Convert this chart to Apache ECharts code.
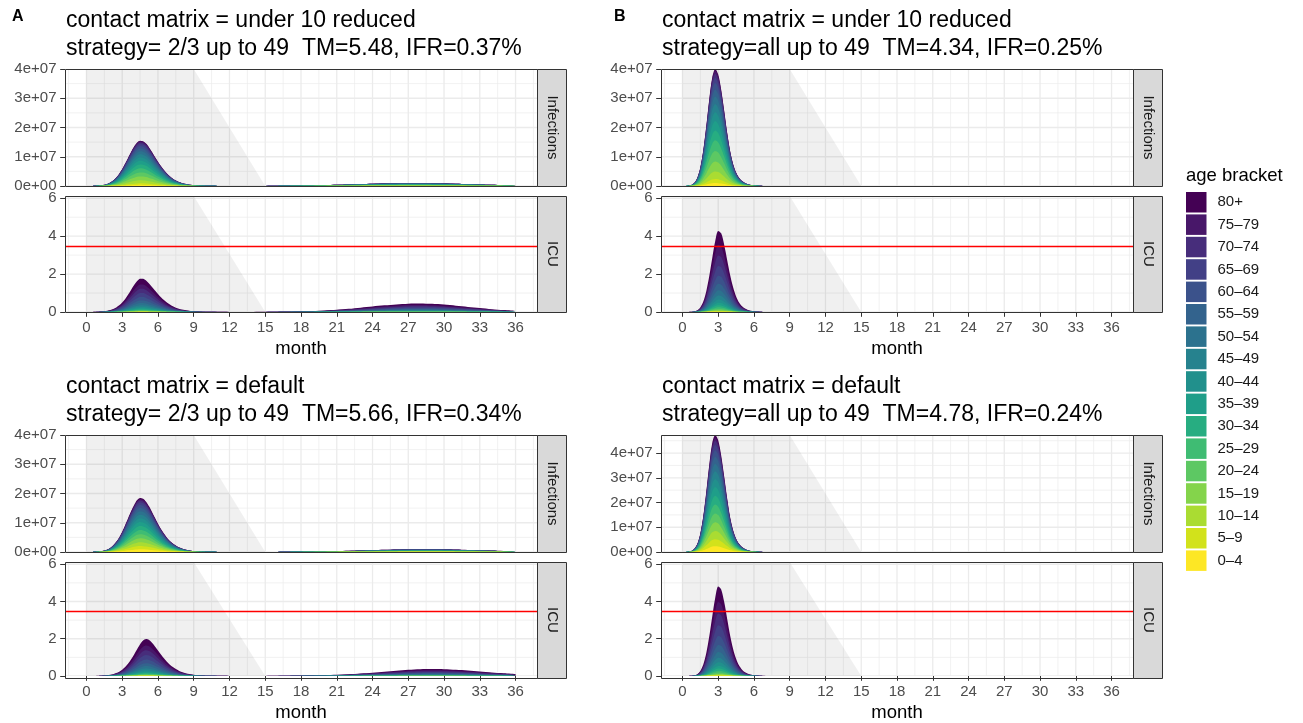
<!DOCTYPE html>
<html>
<head>
<meta charset="utf-8">
<script src="https://cdn.jsdelivr.net/npm/echarts@6/dist/echarts.min.js"></script>
<style>
html, body { margin: 0; padding: 0; background: #fff; }
#chart { width: 1303px; height: 723px; }
</style>
</head>
<body>
<div id="chart"></div>
<script>
// age groups, bottom of the stack first
var ages = ['0–4', '5–9', '10–14', '15–19', '20–24', '25–29', '30–34', '35–39', '40–44',
            '45–49', '50–54', '55–59', '60–64', '65–69', '70–74', '75–79', '80+'];
var ageColors = ['#FDE725', '#D2E21B', '#AADC32', '#84D44B', '#5DC863', '#3FBC73', '#27AD81', '#1F9E89', '#21908C',
                 '#26828E', '#2C728E', '#33638D', '#3B528B', '#424086', '#472D7B', '#481769', '#440154'];

// time in months (quarter steps during the first wave, then monthly)
var months = [0, 0.25, 0.5, 0.75, 1, 1.25, 1.5, 1.75, 2, 2.25, 2.5, 2.75, 3, 3.25, 3.5, 3.75, 4, 4.25, 4.5, 4.75,
              5, 5.25, 5.5, 5.75, 6, 6.25, 6.5, 6.75, 7, 7.25, 7.5, 7.75, 8, 8.25, 8.5, 8.75, 9, 9.25, 9.5, 9.75, 10,
              11, 12, 13, 14, 15, 16, 17, 18, 19, 20, 21, 22, 23, 24, 25, 26, 27, 28, 29, 30, 31, 32, 33, 34, 35, 36];
var monthTicks = [0, 3, 6, 9, 12, 15, 18, 21, 24, 27, 30, 33, 36];

// total infections (units of 1e7) and ICU totals
var aInfReduced = [0, 0, .003, .006, .012, .022, .04, .07, .12, .19, .29, .42, .58, .77, .97, 1.17, 1.35, 1.49, 1.55, 1.53,
  1.45, 1.32, 1.16, .99, .83, .68, .55, .43, .33, .25, .19, .14, .1, .075, .055, .04, .028, .02, .014, .01, .007,
  .004, .003, .003, .003, .004, .005, .008, .013, .02, .03, .042, .055, .068, .08, .09, .097, .1, .1, .097, .09, .08, .068, .055, .042, .03, .02];
var aIcuReduced = [0, .002, .004, .008, .014, .024, .04, .065, .1, .16, .24, .35, .5, .69, .92, 1.17, 1.42, 1.63, 1.76, 1.76,
  1.66, 1.5, 1.32, 1.13, .95, .78, .63, .5, .39, .3, .23, .175, .13, .1, .075, .055, .04, .03, .022, .016, .012,
  .008, .005, .004, .005, .007, .012, .02, .035, .055, .085, .12, .17, .23, .29, .35, .4, .44, .45, .43, .39, .33, .27, .21, .15, .1, .06];
var aInfDefault = [0, 0, .004, .007, .014, .026, .048, .083, .14, .23, .35, .5, .69, .92, 1.16, 1.4, 1.61, 1.78, 1.85, 1.82,
  1.72, 1.56, 1.37, 1.17, .97, .79, .63, .49, .38, .29, .22, .16, .12, .085, .062, .045, .032, .023, .016, .011, .008,
  .004, .003, .003, .003, .003, .004, .006, .01, .015, .022, .03, .04, .052, .064, .075, .085, .092, .095, .095, .09, .082, .072, .06, .048, .037, .028];
var aIcuDefault = [0, 0, .002, .004, .008, .014, .024, .04, .065, .1, .155, .23, .34, .48, .67, .9, 1.16, 1.44, 1.7, 1.9,
  1.98, 1.93, 1.79, 1.59, 1.37, 1.15, .95, .77, .61, .48, .37, .28, .21, .16, .12, .09, .066, .049, .036, .027, .02,
  .01, .006, .005, .005, .006, .009, .014, .022, .034, .05, .07, .1, .14, .18, .23, .28, .33, .36, .37, .36, .33, .29, .24, .19, .15, .11];
var bInfReduced = [0, .002, .01, .035, .107, .28, .63, 1.23, 2.05, 2.97, 3.71, 4.0, 3.81, 3.29, 2.58, 1.83, 1.2, .75, .46, .28,
  .17, .1, .06, .035, .02, .01, .005, .002, 0, 0, 0, 0, 0, 0, 0, 0, 0, 0, 0, 0, 0];
var bIcuReduced = [0, 0, .002, .008, .03, .09, .24, .55, 1.1, 1.9, 2.85, 3.75, 4.28, 4.15, 3.55, 2.75, 1.95, 1.3, .82, .5,
  .3, .18, .11, .065, .04, .022, .012, .006, .003, 0, 0, 0, 0, 0, 0, 0, 0, 0, 0, 0, 0];
var bInfDefault = [0, .003, .012, .04, .13, .33, .75, 1.46, 2.44, 3.53, 4.41, 4.73, 4.52, 3.9, 3.06, 2.17, 1.4, .88, .54, .33,
  .2, .12, .07, .04, .022, .012, .006, .003, 0, 0, 0, 0, 0, 0, 0, 0, 0, 0, 0, 0, 0];
var bIcuDefault = [0, 0, .002, .01, .035, .1, .27, .62, 1.23, 2.13, 3.2, 4.2, 4.8, 4.65, 3.98, 3.08, 2.18, 1.45, .92, .56,
  .34, .2, .12, .073, .045, .025, .013, .007, .003, 0, 0, 0, 0, 0, 0, 0, 0, 0, 0, 0, 0];

// share of each age group in the stack (0-4 first)
var infShareReduced = [.025, .035, .065, .085, .09, .09, .085, .08, .075, .07, .065, .06, .055, .045, .035, .025, .015];
var infShareDefault = [.05, .06, .07, .075, .075, .075, .075, .075, .07, .065, .065, .06, .055, .045, .035, .025, .025];
var icuShare = [.004, .003, .006, .01, .015, .02, .025, .03, .04, .05, .065, .08, .1, .12, .13, .13, .172];

var icuCapacity = 3.47;
var infTicks = [0, 1e7, 2e7, 3e7, 4e7];
var icuTicks = [0, 2, 4, 6];
var shadeFrom = 0, shadeTop = 9, shadeEnd = 15;

var panels = [
  { left: 65, top: 69, title: 'contact matrix = under 10 reduced\nstrategy= 2/3 up to 49  TM=5.48, IFR=0.37%',
    inf: aInfReduced, icu: aIcuReduced, share: infShareReduced, infMax: 4e7 },
  { left: 65, top: 435, title: 'contact matrix = default\nstrategy= 2/3 up to 49  TM=5.66, IFR=0.34%',
    inf: aInfDefault, icu: aIcuDefault, share: infShareDefault, infMax: 4e7 },
  { left: 661, top: 69, title: 'contact matrix = under 10 reduced\nstrategy=all up to 49  TM=4.34, IFR=0.25%',
    inf: bInfReduced, icu: bIcuReduced, share: infShareReduced, infMax: 4e7 },
  { left: 661, top: 435, title: 'contact matrix = default\nstrategy=all up to 49  TM=4.78, IFR=0.24%',
    inf: bInfDefault, icu: bIcuDefault, share: infShareDefault, infMax: 4.73e7 }
];

var FONT = "'Liberation Sans', Arial, sans-serif";
var plotW = 472, stripW = 29, xMin = -1.8, xMax = 37.8, icuMax = 6.12;

var grids = [], xAxes = [], yAxes = [], series = [], graphics = [];
var titles = [
  { text: 'A', left: 12, top: 9, padding: 0, textStyle: { fontFamily: FONT, fontSize: 16, fontWeight: 'bold', color: '#000' } },
  { text: 'B', left: 614, top: 9, padding: 0, textStyle: { fontFamily: FONT, fontSize: 16, fontWeight: 'bold', color: '#000' } }
];

function background(gi, yTicks, yMax) {
  return {
    type: 'custom', xAxisIndex: gi, yAxisIndex: gi, silent: true, z: 1, clip: true, data: [0],
    renderItem: function (params, api) {
      var kids = [];
      function seg(a, b, w) {
        var p = api.coord(a), q = api.coord(b);
        kids.push({ type: 'line', shape: { x1: p[0], y1: p[1], x2: q[0], y2: q[1] },
                    style: { stroke: '#EBEBEB', lineWidth: w } });
      }
      for (var x = -1.5; x <= 37.5; x += 3) seg([x, 0], [x, yMax], 0.7);
      monthTicks.forEach(function (x) { seg([x, 0], [x, yMax], 1.3); });
      for (var i = 0; i < yTicks.length; i++) {
        var mid = yTicks[i] + (yTicks[1] - yTicks[0]) / 2;
        if (mid < yMax) seg([xMin, mid], [xMax, mid], 0.7);
        seg([xMin, yTicks[i]], [xMax, yTicks[i]], 1.3);
      }
      var pts = [[shadeFrom, 0], [shadeFrom, yMax], [shadeTop, yMax], [shadeEnd, 0]].map(function (p) { return api.coord(p); });
      kids.push({ type: 'polygon', shape: { points: pts }, style: { fill: 'rgba(0,0,0,0.06)' } });
      return { type: 'group', children: kids };
    }
  };
}

panels.forEach(function (p, pi) {
  titles.push({ text: p.title, left: p.left + 1, top: p.top - 62, padding: 0,
    textStyle: { fontFamily: FONT, fontSize: 23, fontWeight: 'normal', color: '#000', lineHeight: 28 } });

  [0, 1].forEach(function (k) {
    var gi = pi * 2 + k;
    var isIcu = k === 1;
    var top = isIcu ? p.top + 127 : p.top;
    var h = isIcu ? 116 : 117;
    var yMax = isIcu ? icuMax : p.infMax;
    var yTicks = isIcu ? icuTicks : infTicks;
    grids.push({ left: p.left, top: top, width: plotW, height: h, show: false });

    xAxes.push({
      gridIndex: gi, type: 'value', min: xMin, max: xMax, show: isIcu,
      axisLine: { show: false, onZero: false },
      axisTick: { show: true, length: 4.8, lineStyle: { color: '#333', width: 1 }, customValues: monthTicks },
      axisLabel: { customValues: monthTicks, color: '#4D4D4D', fontSize: 15, fontFamily: FONT, margin: 8.5 },
      splitLine: { show: false },
      name: isIcu ? 'month' : '', nameLocation: 'middle', nameGap: 27,
      nameTextStyle: { color: '#000', fontSize: 18.5, fontFamily: FONT }
    });
    yAxes.push({
      gridIndex: gi, type: 'value', min: 0, max: yMax,
      axisLine: { show: false, onZero: false },
      axisTick: { show: true, length: 4.8, lineStyle: { color: '#333', width: 1 }, customValues: yTicks },
      axisLabel: {
        customValues: yTicks, color: '#4D4D4D', fontSize: 15, fontFamily: FONT, margin: 8.5,
        formatter: isIcu ? '{value}' : function (v) { return v === 0 ? '0e+00' : (v / 1e7) + 'e+07'; }
      },
      splitLine: { show: false }
    });

    series.push(background(gi, yTicks, yMax));

    // cumulative bands: the oldest group (the whole stack) is drawn first,
    // each younger group's cumulative area is painted over it
    var total = isIcu ? p.icu : p.inf;
    var share = isIcu ? icuShare : p.share;
    var unit = isIcu ? 1 : 1e7;
    for (var ai = ages.length - 1; ai >= 0; ai--) {
      var cum = 0;
      for (var j = 0; j <= ai; j++) cum += share[j];
      var s = {
        name: ages[ai], type: 'line', xAxisIndex: gi, yAxisIndex: gi, z: 2,
        symbol: 'none', smooth: 0.3, color: ageColors[ai],
        lineStyle: { width: 0 }, itemStyle: { color: ageColors[ai] },
        areaStyle: { color: ageColors[ai], opacity: 1, origin: 'start' },
        emphasis: { disabled: true },
        data: total.map((function (c) { return function (v, i) { return [months[i], v * c * unit]; }; })(cum))
      };
      if (isIcu && ai === 0) {
        s.markLine = { silent: true, symbol: 'none', label: { show: false },
          lineStyle: { color: '#FF0000', width: 1.3, type: 'solid' }, data: [{ yAxis: icuCapacity }] };
      }
      series.push(s);
    }

    // panel border and facet strip
    graphics.push({ type: 'rect', z: 100, silent: true,
      shape: { x: p.left + 0.5, y: top + 0.5, width: plotW, height: h },
      style: { fill: 'none', stroke: '#333333', lineWidth: 1 } });
    graphics.push({ type: 'rect', z: 100, silent: true,
      shape: { x: p.left + plotW + 0.5, y: top + 0.5, width: stripW, height: h },
      style: { fill: '#D9D9D9', stroke: '#333333', lineWidth: 1 } });
    graphics.push({ type: 'text', z: 101, silent: true,
      x: p.left + plotW + stripW / 2 + 0.5, y: top + h / 2, rotation: -Math.PI / 2,
      style: { text: isIcu ? 'ICU' : 'Infections', font: '15px ' + FONT, fill: '#1A1A1A',
               align: 'center', verticalAlign: 'middle', textAlign: 'center', textVerticalAlign: 'middle' } });
  });
});

graphics.push({ type: 'text', silent: true, x: 1186, y: 176,
  style: { text: 'age bracket', font: '18.5px ' + FONT, fill: '#000', align: 'left', verticalAlign: 'middle',
           textAlign: 'left', textVerticalAlign: 'middle' } });

var myChart = echarts.init(document.getElementById('chart'));
myChart.setOption({
  animation: false,
  title: titles,
  grid: grids,
  xAxis: xAxes,
  yAxis: yAxes,
  legend: {
    data: ages.slice().reverse(), orient: 'vertical', left: 1186, top: 192, padding: 0,
    icon: 'rect', itemWidth: 20.5, itemHeight: 20.5, itemGap: 1.9, selectedMode: false,
    textStyle: { fontFamily: FONT, fontSize: 15, color: '#1A1A1A', padding: [0, 0, 0, 6] }
  },
  graphic: graphics,
  series: series
});

window.addEventListener('resize', function () { myChart.resize(); });
</script>
</body>
</html>
